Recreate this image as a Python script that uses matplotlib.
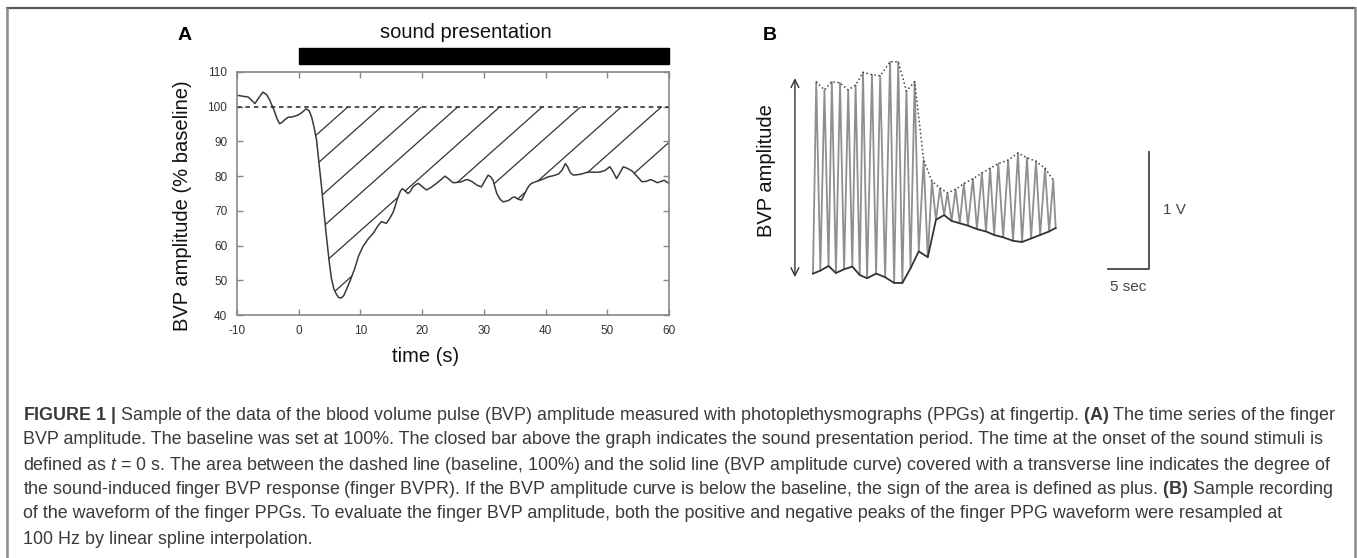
import matplotlib
matplotlib.use("Agg")
import matplotlib.pyplot as plt
import numpy as np
from matplotlib.patches import Rectangle, PathPatch
from matplotlib.lines import Line2D
from matplotlib.collections import LineCollection
from matplotlib.transforms import blended_transform_factory

# ---- panel A: finger BVP amplitude (% baseline) ----
time_s = [-10, -9, -8.2, -7.6, -7.1, -6.5, -5.8, -5.2, -4.7, -4.0, -3.5, -3.1, -2.7, -2.3,
          -1.7, -1.2, -0.6, -0.1, 0.5, 1.2, 1.7, 2.1, 2.5, 2.9, 3.3, 3.7, 4.1, 4.5, 4.9,
          5.3, 5.7, 6.1, 6.5, 6.9, 7.3, 7.7, 8.4, 9.1, 9.7, 10.4, 11.2, 12.1, 12.8, 13.4,
          14.2, 14.8, 15.3, 15.7, 16.1, 16.5, 16.8, 17.2, 17.7, 18.1, 18.5, 19.0, 19.4,
          20.0, 20.7, 21.5, 22.3, 23.0, 23.7, 24.3, 25.0, 25.7, 26.4, 27.0, 27.4, 28.0,
          28.5, 29.0, 29.6, 30.2, 30.7, 31.1, 31.5, 31.8, 32.1, 32.6, 33.1, 33.7, 34.2,
          34.6, 35.0, 35.5, 36.1, 36.5, 36.9, 37.3, 37.7, 38.4, 39.1, 39.8, 40.4, 41.2,
          42.1, 42.7, 43.2, 43.6, 44.0, 44.5, 45.1, 45.8, 46.5, 47.2, 48.0, 48.8, 49.6,
          50.4, 50.9, 51.5, 52.0, 52.6, 53.3, 54.0, 54.8, 55.6, 56.3, 57.0, 57.6, 58.1,
          58.6, 59.2, 60.0]
bvp_pct = [103.3, 103.0, 102.8, 101.8, 100.9, 102.5, 104.2, 103.5, 101.9, 99.0, 96.5, 95.1,
           95.5, 96.2, 97.0, 97.0, 97.3, 97.6, 98.3, 99.4, 98.8, 97.0, 94.0, 90.3, 83.5,
           76.9, 69.5, 62.5, 56.0, 50.5, 47.5, 46.0, 45.0, 44.9, 45.6, 47.2, 50.2, 53.5,
           57.0, 59.7, 61.8, 63.6, 65.6, 66.9, 66.4, 68.0, 69.6, 71.8, 74.0, 75.8, 76.4,
           75.8, 75.0, 75.6, 76.9, 77.6, 77.9, 77.0, 76.0, 76.8, 77.9, 78.9, 80.0, 79.2,
           78.1, 78.2, 78.4, 78.9, 79.0, 78.5, 77.9, 77.3, 76.9, 78.8, 80.3, 79.8, 78.8,
           76.8, 75.0, 73.4, 72.6, 72.8, 73.2, 73.8, 74.0, 73.4, 73.1, 74.5, 76.0, 77.2,
           77.9, 78.4, 78.8, 79.3, 79.8, 80.1, 80.6, 81.8, 83.6, 82.6, 81.0, 80.3, 80.4,
           80.6, 81.0, 81.2, 81.1, 81.2, 81.6, 82.7, 81.4, 79.3, 80.8, 82.7, 82.2, 81.5,
           80.0, 78.4, 78.5, 79.0, 78.6, 78.1, 78.4, 78.8, 77.9]
baseline = 100
sound_on, sound_off = 0, 60
x_ticks = [-10, 0, 10, 20, 30, 40, 50, 60]
y_ticks = [40, 50, 60, 70, 80, 90, 100, 110]

# ---- panel B: PPG waveform peaks (s, V) ----
peak_t = [0.4, 1.4, 2.3, 3.3, 4.3, 5.2, 6.1, 7.2, 8.2, 9.4, 10.4, 11.4, 12.4, 13.5, 14.5,
          15.5, 16.4, 17.4, 18.4, 19.5, 20.6, 21.6, 22.6, 23.8, 25.0, 26.1, 27.2, 28.3, 29.3]
peak_v = [1.72, 1.65, 1.72, 1.71, 1.65, 1.69, 1.80, 1.78, 1.77, 1.89, 1.89, 1.64, 1.72, 1.05,
          0.87, 0.81, 0.77, 0.80, 0.85, 0.89, 0.94, 0.98, 1.02, 1.05, 1.11, 1.07, 1.04, 0.98, 0.88]
trough_t = [0.0, 0.9, 1.9, 2.8, 3.8, 4.8, 5.7, 6.6, 7.7, 8.8, 9.9, 10.9, 11.9, 12.9, 14.0,
            15.0, 16.0, 16.9, 17.9, 18.9, 20.0, 21.1, 22.1, 23.2, 24.4, 25.5, 26.6, 27.7, 28.8, 29.6]
trough_v = [0.08, 0.105, 0.145, 0.085, 0.117, 0.14, 0.068, 0.04, 0.08, 0.049, 0.0, 0.0, 0.125,
            0.27, 0.22, 0.54, 0.58, 0.53, 0.51, 0.49, 0.46, 0.44, 0.41, 0.39, 0.36, 0.35, 0.38,
            0.41, 0.44, 0.47]

caption_lines = [
    r"$\mathbf{FIGURE\ 1\ |}$ Sample of the data of the blood volume pulse (BVP) amplitude measured with photoplethysmographs (PPGs) at fingertip. $\mathbf{(A)}$ The time series of the finger",
    "BVP amplitude. The baseline was set at 100%. The closed bar above the graph indicates the sound presentation period. The time at the onset of the sound stimuli is",
    r"defined as $t$ = 0 s. The area between the dashed line (baseline, 100%) and the solid line (BVP amplitude curve) covered with a transverse line indicates the degree of",
    r"the sound-induced finger BVP response (finger BVPR). If the BVP amplitude curve is below the baseline, the sign of the area is defined as plus. $\mathbf{(B)}$ Sample recording",
    "of the waveform of the finger PPGs. To evaluate the finger BVP amplitude, both the positive and negative peaks of the finger PPG waveform were resampled at",
    "100 Hz by linear spline interpolation.",
]

plt.rcParams['font.family'] = ['Liberation Sans', 'DejaVu Sans']
plt.rcParams['axes.unicode_minus'] = False
plt.rcParams['mathtext.fontset'] = 'custom'
plt.rcParams['mathtext.rm'] = 'Liberation Sans'
plt.rcParams['mathtext.it'] = 'Liberation Sans:italic'
plt.rcParams['mathtext.bf'] = 'Liberation Sans:bold'

W, H = 1357, 558
fig = plt.figure(figsize=(W / 100, H / 100), dpi=100)

def px_box(x0, y0, x1, y1):
    # pixel box (top-left origin) -> figure fraction rect
    return [x0 / W, 1 - y1 / H, (x1 - x0) / W, (y1 - y0) / H]

# outer frame
fig.add_artist(Line2D([7 / W, 1355 / W], [1 - 8 / H, 1 - 8 / H], color='#555555', lw=1.6,
                      transform=fig.transFigure))
for xp in (7, 1355):
    fig.add_artist(Line2D([xp / W, xp / W], [0, 1 - 8 / H], color='#8a8a8a', lw=1.8,
                          transform=fig.transFigure))

# ---------------- panel A ----------------
ax = fig.add_axes(px_box(237, 72, 669, 315))
t = np.array(time_s)
v = np.array(bvp_pct)
ax.plot(t, v, color='#3a3a3a', lw=1.1)
ax.axhline(baseline, color='#222222', lw=1.1, ls=(0, (3, 2.5)))

# transverse lines over the response area
fill = ax.fill_between(t, v, baseline, where=t >= sound_on, interpolate=True,
                       facecolor='none', edgecolor='none')
clip = PathPatch(fill.get_paths()[0], transform=ax.transData, fc='none', ec='none')
ax.add_patch(clip)
hatch_t0 = [8.0, 13.4, 19.9, 25.8, 32.6, 39.5, 45.7, 52.3, 58.8, 66.5]
slope = 1.58
segs = [[(t0 - 40, baseline - slope * 40), (t0, baseline)] for t0 in hatch_t0]
hatch = LineCollection(segs, colors='#333333', linewidths=0.9)
ax.add_collection(hatch)
hatch.set_clip_path(clip)

ax.set_xlim(-10, 60)
ax.set_ylim(40, 110)
ax.set_xticks(x_ticks)
ax.set_yticks(y_ticks)
ax.tick_params(direction='in', length=4, width=1, color='#888888', top=True, right=True,
               labelsize=8.5, labelcolor='#333333', pad=7)
for s in ax.spines.values():
    s.set_color('#888888')
    s.set_linewidth(1.2)

ax.set_xlabel('time (s)', fontsize=14.5, color='#111111', va='center', ha='center')
ax.xaxis.set_label_coords((426 - 237) / 432, (315 - 357) / 243)
ax.set_ylabel('BVP amplitude (% baseline)', fontsize=14.5, color='#111111',
              va='center', ha='center')
ax.yaxis.set_label_coords((183 - 237) / 432, (315 - 206) / 243)

# sound presentation bar
tr = blended_transform_factory(ax.transData, ax.transAxes)
ax.add_patch(Rectangle((sound_on, (315 - 64) / 243), sound_off - sound_on, 16 / 243,
                       transform=tr, color='black', clip_on=False))
ax.text(27.0, (315 - 33) / 243, 'sound presentation',
        transform=tr, ha='center', va='center', fontsize=14.5, color='#111111')
fig.text(185 / W, 1 - 35 / H, 'A', fontsize=14, fontweight='bold', ha='center', va='center')

# ---------------- panel B ----------------
bx = fig.add_axes(px_box(790, 50, 1180, 295))
bx.set_xlim(-2.8, 44.76)
bx.set_ylim(-0.103, 1.991)
bx.axis('off')
wt = np.array(peak_t + trough_t)
wv = np.array(peak_v + trough_v)
order = np.argsort(wt)
bx.plot(wt[order], wv[order], color='#8f8f8f', lw=1.3)
bx.plot(trough_t, trough_v, color='#333333', lw=1.3)
bx.plot(peak_t, peak_v, color='#444444', lw=1.1, ls=':')
bx.annotate('', xy=(-2.2, 1.75), xytext=(-2.2, 0.05),
            arrowprops=dict(arrowstyle='<->', color='#333333', lw=1.0,
                            shrinkA=0, shrinkB=0, mutation_scale=14))
# scale bar: 5 s by 1 V
bx.plot([36.0, 41.0, 41.0], [0.12, 0.12, 1.12], color='#444444', lw=1.3, clip_on=False)
bx.text(38.5, -0.035, '5 sec', ha='center', va='center', fontsize=11, color='#444444')
bx.text(42.7, 0.62, '1 V', ha='left', va='center', fontsize=11, color='#444444', clip_on=False)
fig.text(766 / W, 1 - 171 / H, 'BVP amplitude', rotation=90, ha='center', va='center',
         fontsize=14.5, color='#111111')
fig.text(770 / W, 1 - 35 / H, 'B', fontsize=14, fontweight='bold', ha='center', va='center')

# ---------------- caption ----------------
line_y = [416, 440, 465, 490, 514, 539]
caps = [fig.text(23 / W, 1 - y / H, s, ha='left', va='center', fontsize=11.5, color='#3a3a3a')
        for s, y in zip(caption_lines, line_y)]
fig.canvas.draw()
r = fig.canvas.get_renderer()
w1 = caps[0].get_window_extent(r).width
scale = (1340 - 23) / w1
for c in caps:
    c.set_fontsize(11.5 * scale)

fig.savefig('out.png', dpi=100)
